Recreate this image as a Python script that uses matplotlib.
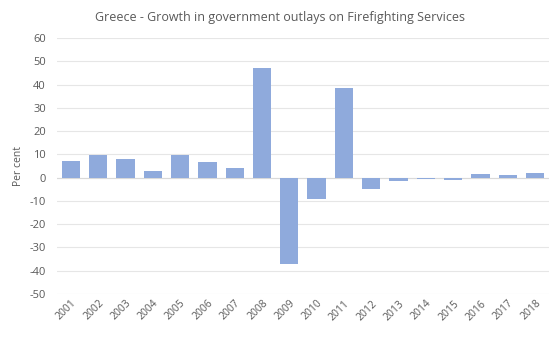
import matplotlib.pyplot as plt
import numpy as np

years = [str(y) for y in range(2001, 2019)]
growth = [7.3, 9.6, 8.1, 2.7, 9.6, 6.7, 4.0, 47.0, -37.0, -9.1,
          38.7, -4.9, -1.3, -0.8, -1.2, 1.6, 1.3, 2.0]

plt.rcParams['font.family'] = ['Open Sans', 'DejaVu Sans']
plt.rcParams['axes.unicode_minus'] = False
txt = '#595959'

fig = plt.figure(figsize=(5.6, 3.37), dpi=100)
ax = fig.add_axes([0.102, 0.128, 0.878, 0.759])

x = np.arange(len(years))
ax.bar(x, growth, width=0.67, color='#8faadc', zorder=3)

ax.set_xlim(-0.5, len(years) - 0.5)
ax.set_ylim(-50, 60)
ax.set_yticks(range(-50, 61, 10))
ax.yaxis.grid(True, color='#e6e6e6', linewidth=0.8, zorder=0)
ax.axhline(0, color='#d9d9d9', linewidth=0.8, zorder=2)
for s in ax.spines.values():
    s.set_visible(False)

ax.set_xticks(x)
ax.set_xticklabels(years, rotation=45, ha='right', rotation_mode='anchor')
ax.tick_params(axis='x', length=0, labelsize=7.5, colors=txt, pad=3)
ax.tick_params(axis='y', length=0, labelsize=8, colors=txt, pad=8)

ax.set_ylabel('Per cent', fontsize=7.5, color=txt, labelpad=4)
fig.text(0.5, 0.948, 'Greece - Growth in government outlays on Firefighting Services',
         ha='center', va='center', fontsize=9, color=txt)

fig.savefig('out.png', dpi=100)
